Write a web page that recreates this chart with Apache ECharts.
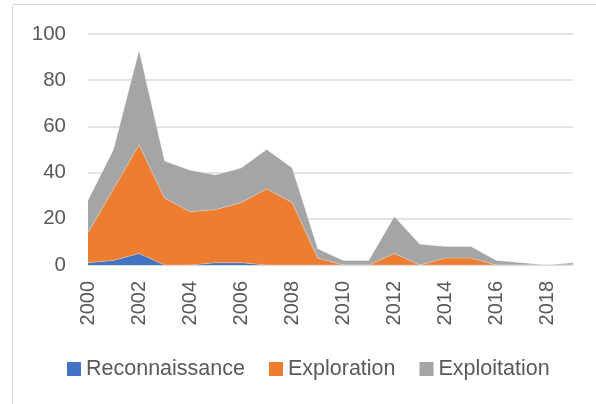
<!DOCTYPE html>
<html>
<head>
<meta charset="utf-8">
<script src="https://cdn.jsdelivr.net/npm/echarts@6/dist/echarts.min.js"></script>
<style>
  html, body { margin: 0; padding: 0; background: #fff; }
  #main { width: 596px; height: 404px; }
</style>
</head>
<body>
<div id="main"></div>
<script>
// years on the x axis
var years = ['2000', '2001', '2002', '2003', '2004', '2005', '2006', '2007', '2008', '2009',
             '2010', '2011', '2012', '2013', '2014', '2015', '2016', '2017', '2018', '2019'];

// stacked values
var reconnaissance = [1, 2, 5, 0, 0, 1, 1, 0, 0, 0, 0, 0, 0, 0, 0, 0, 0, 0, 0, 0];
var exploration    = [13, 31, 47, 29, 23, 23, 26, 33, 27, 3, 0, 0, 5, 0, 3, 3, 0, 0, 0, 0];
var exploitation   = [14, 17, 41, 16, 18, 15, 15, 17, 15, 4, 2, 2, 16, 9, 5, 5, 2, 1, 0, 1];

var seriesNames = ['Reconnaissance', 'Exploration', 'Exploitation'];
var colors = ['#4472C4', '#ED7D31', '#A5A5A5'];

var myChart = echarts.init(document.getElementById('main'));

function areaSeries(name, data, color) {
    return {
        name: name,
        type: 'line',
        stack: 'total',
        data: data,
        showSymbol: false,
        symbol: 'none',
        lineStyle: { width: 0.6, color: 'rgba(255,255,255,0.5)' },
        itemStyle: { color: color },
        areaStyle: { color: color, opacity: 1 }
    };
}

var option = {
    animation: false,
    backgroundColor: '#fff',
    color: colors,
    textStyle: { fontFamily: 'Liberation Sans' },
    // chart border, partly outside the window
    graphic: [{
        type: 'rect',
        shape: { x: 12.5, y: 4.5, width: 700, height: 500 },
        style: { fill: 'none', stroke: '#d9d9d9', lineWidth: 1 },
        silent: true
    }],
    grid: { left: 88, right: 23, top: 34, bottom: 139 },
    legend: {
        data: seriesNames,
        left: 62,
        top: 353,
        itemWidth: 14,
        itemHeight: 14,
        itemGap: 24,
        icon: 'rect',
        textStyle: { fontSize: 21.5, color: '#595959', fontFamily: 'Liberation Sans' }
    },
    xAxis: {
        type: 'category',
        data: years,
        boundaryGap: false,
        axisLine: { lineStyle: { color: '#d9d9d9' } },
        axisTick: { show: false },
        axisLabel: {
            rotate: 90,
            interval: 1,
            margin: 16,
            fontSize: 20,
            color: '#595959'
        }
    },
    yAxis: {
        type: 'value',
        min: 0,
        max: 100,
        interval: 20,
        axisLine: { show: false },
        axisTick: { show: false },
        axisLabel: { fontSize: 20.5, color: '#595959', margin: 22 },
        splitLine: { lineStyle: { color: '#d9d9d9', width: 1.5 } }
    },
    series: [
        areaSeries(seriesNames[0], reconnaissance, colors[0]),
        areaSeries(seriesNames[1], exploration, colors[1]),
        areaSeries(seriesNames[2], exploitation, colors[2])
    ]
};

myChart.setOption(option);
</script>
</body>
</html>
